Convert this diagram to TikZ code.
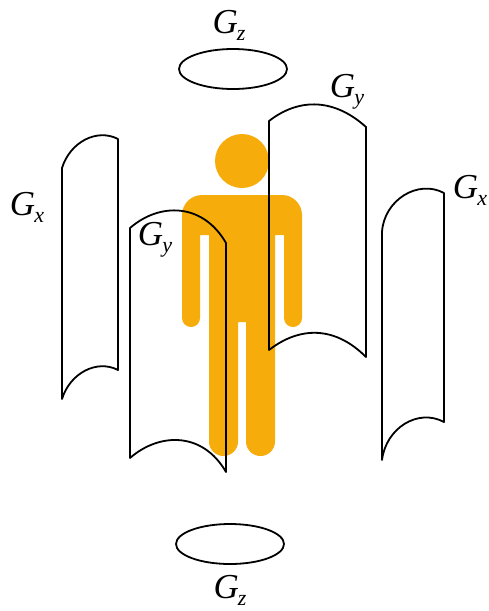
\documentclass[tikz,border=0pt]{standalone}
\usepackage{fontspec}
\usetikzlibrary{shapes.geometric}
\setmainfont{Liberation Serif}
\definecolor{body}{HTML}{F6AC0A}
\newcommand{\coillabel}[1]{\fontsize{35}{35}\selectfont\itshape G\kern-1pt\raisebox{-7pt}{\fontsize{22}{22}\selectfont #1}}
\tikzset{
  coil/.style={draw=black,line width=1.8pt,line cap=round,line join=round},
  coillab/.style={inner sep=0pt,anchor=center},
  ring/.style={draw=black,line width=1.8pt,ellipse,inner sep=0pt,minimum width=108pt,minimum height=40pt}
}
\begin{document}
\begin{tikzpicture}[x=1pt,y=-1pt]
\useasboundingbox (0,0) rectangle (489,611);
\clip (0,0) rectangle (489,611);
% person
\fill[body] (242,161) circle[radius=27];
\fill[body] (202,195) -- (282,195) .. controls (293,195) and (302,204) .. (302,215) -- (302,318)
  .. controls (302,323) and (298,327) .. (293,327) .. controls (288,327) and (284,323) .. (284,318)
  -- (284,235) -- (275,235) -- (275,441.5)
  .. controls (275,449.5) and (268.5,456) .. (260.5,456) .. controls (252.5,456) and (246,449.5) .. (246,441.5)
  -- (246,322) -- (238,322) -- (238,441.5)
  .. controls (238,449.5) and (231.5,456) .. (223.5,456) .. controls (215.5,456) and (209,449.5) .. (209,441.5)
  -- (209,235) -- (200,235) -- (200,318)
  .. controls (200,323) and (196,327) .. (191,327) .. controls (186,327) and (182,323) .. (182,318)
  -- (182,215) .. controls (182,204) and (191,195) .. (202,195) -- cycle;
% left Gx
\draw[coil] (62,399) -- (62,168) .. controls (70,142) and (97,128) .. (118,139) -- (118,370)
  .. controls (97,359) and (70,373) .. (62,399);
% front Gy
\draw[coil] (130,458) -- (130,228) .. controls (160,202) and (203,203) .. (226,243) -- (226,472)
  .. controls (203,432) and (160,432) .. (130,458);
% back Gy
\draw[coil] (269,350) -- (269,121) .. controls (300,97) and (335,99) .. (366,127) -- (366,357)
  .. controls (335,326) and (300,326) .. (269,350);
% right Gx
\draw[coil] (382,460) -- (382,232) .. controls (384,200) and (418,179) .. (444,193) -- (444,422)
  .. controls (418,408) and (386,428) .. (382,460);
% rings
\node[ring] (ringtop) at (233,69) {};
\node[ring] (ringbot) at (230,544) {};
% labels
\node[coillab] (lzt) at (229,25) {\coillabel{z}};
\node[coillab] (lzb) at (230,590) {\coillabel{z}};
\node[coillab] (lyb) at (347,92) {\coillabel{y}};
\node[coillab] (lyf) at (155,240) {\coillabel{y}};
\node[coillab] (lxl) at (27,207) {\coillabel{x}};
\node[coillab] (lxr) at (470,190) {\coillabel{x}};
\end{tikzpicture}
\end{document}
